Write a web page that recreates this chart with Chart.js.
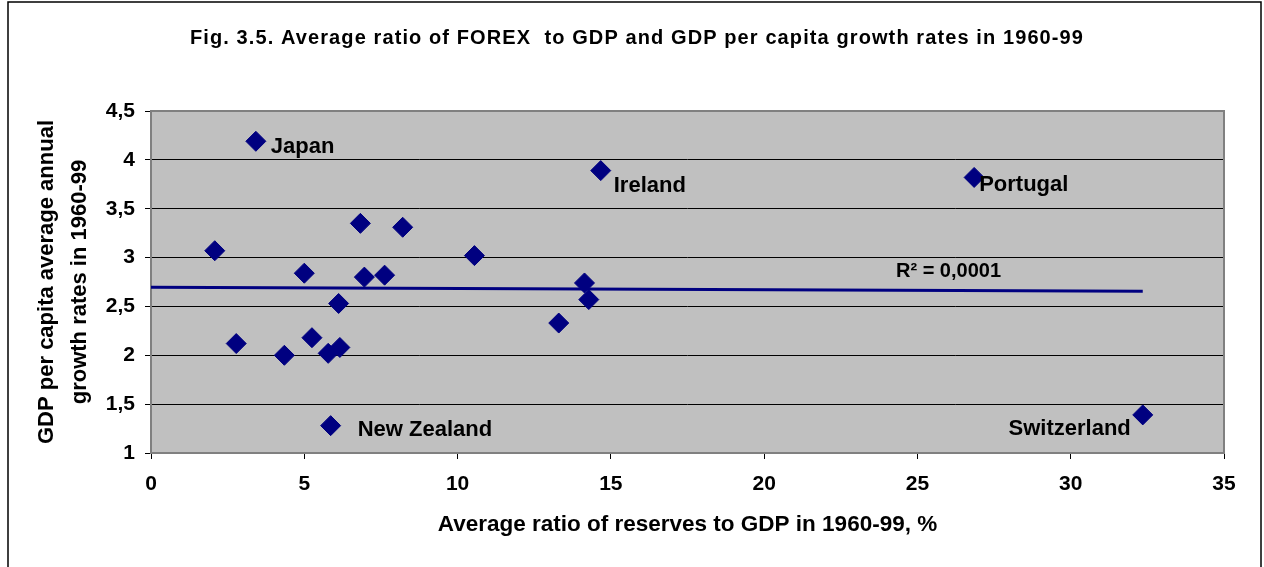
<!DOCTYPE html>
<html>
<head>
<meta charset="utf-8">
<script src="https://cdn.jsdelivr.net/npm/chart.js@4"></script>
<style>
  html, body { margin: 0; padding: 0; background: #fff; }
  #wrap { width: 1264px; height: 567px; position: relative; }
</style>
</head>
<body>
<div id="wrap"><canvas id="forexChart"></canvas></div>
<script>
const reserveRatio = [3.42, 2.08, 2.78, 4.35, 5.0, 5.25, 5.78, 6.16, 6.12, 6.83, 6.96, 7.62, 8.21, 10.55, 5.86, 14.67, 14.14, 14.28, 13.30, 26.85, 32.35];
const gdpGrowth = [4.19, 3.07, 2.12, 2.00, 2.84, 2.18, 2.02, 2.08, 2.53, 3.35, 2.80, 2.82, 3.31, 3.02, 1.28, 3.89, 2.74, 2.57, 2.33, 3.82, 1.39];
const countryNames = ['Japan', '', '', '', '', '', '', '', '', '', '', '', '', '', 'New Zealand', 'Ireland', '', '', '', 'Portugal', 'Switzerland'];
const trendX = [0, 32.35];
const trendY = [2.695, 2.655];
const xTicks = [0, 5, 10, 15, 20, 25, 30, 35];
const yTicks = [1, 1.5, 2, 2.5, 3, 3.5, 4, 4.5];
const chartTitle = 'Fig. 3.5. Average ratio of FOREX  to GDP and GDP per capita growth rates in 1960-99';
const rSquaredText = 'R² = 0,0001';

const FONT = "'Liberation Sans', Arial, sans-serif";
const NAVY = '#000080';

// where each country name sits relative to its marker: dx, baseline dy, align
const labelOffsets = {
  'Japan': [15, 12, 'left'],
  'New Zealand': [27, 10, 'left'],
  'Ireland': [13, 21, 'left'],
  'Portugal': [5, 14, 'left'],
  'Switzerland': [-12, 20, 'right'],
};

const plotFrame = {
  id: 'plotFrame',
  beforeDraw(chart) {
    const { ctx, chartArea: a } = chart;
    ctx.save();
    ctx.strokeStyle = '#000';
    ctx.lineWidth = 1.5;
    ctx.strokeRect(8, 2, 1253, 600);
    ctx.fillStyle = '#c0c0c0';
    ctx.fillRect(a.left, a.top, a.right - a.left, a.bottom - a.top);
    ctx.fillStyle = '#000';
    ctx.font = 'bold 20px ' + FONT;
    if ('letterSpacing' in ctx) ctx.letterSpacing = '1.1px';
    ctx.textAlign = 'center';
    ctx.textBaseline = 'middle';
    ctx.fillText(chartTitle, 637, 38);
    ctx.restore();
  },
  beforeDatasetsDraw(chart) {
    const { ctx, chartArea: a } = chart;
    ctx.save();
    ctx.strokeStyle = '#808080';
    ctx.lineWidth = 2;
    ctx.strokeRect(a.left, a.top, a.right - a.left, a.bottom - a.top);
    ctx.restore();
  },
  afterDatasetsDraw(chart) {
    const { ctx } = chart;
    const xs = chart.scales.x;
    const ys = chart.scales.y;
    ctx.save();
    ctx.fillStyle = '#000';
    ctx.font = 'bold 22px ' + FONT;
    ctx.textBaseline = 'alphabetic';
    countryNames.forEach((name, i) => {
      if (!name) return;
      const [dx, dy, align] = labelOffsets[name];
      ctx.textAlign = align;
      ctx.fillText(name, xs.getPixelForValue(reserveRatio[i]) + dx, ys.getPixelForValue(gdpGrowth[i]) + dy);
    });
    ctx.font = 'bold 20px ' + FONT;
    ctx.textAlign = 'left';
    ctx.fillText(rSquaredText, xs.getPixelForValue(24.3), ys.getPixelForValue(trendY[1]) - 14);
    ctx.restore();
  },
};

new Chart(document.getElementById('forexChart'), {
  type: 'scatter',
  data: {
    datasets: [{
      label: 'Countries',
      data: reserveRatio.map((x, i) => ({ x, y: gdpGrowth[i] })),
      pointStyle: 'rectRot',
      pointRadius: 10,
      pointHoverRadius: 10,
      backgroundColor: NAVY,
      borderColor: NAVY,
      borderWidth: 1,
    }, {
      label: 'Linear trend',
      type: 'line',
      data: trendX.map((x, i) => ({ x, y: trendY[i] })),
      borderColor: NAVY,
      borderWidth: 3,
      pointRadius: 0,
      fill: false,
    }],
  },
  options: {
    responsive: true,
    maintainAspectRatio: false,
    animation: false,
    layout: { padding: { left: 0, right: 40, top: 111, bottom: 0 } },
    plugins: {
      legend: { display: false },
      tooltip: { enabled: false },
    },
    scales: {
      x: {
        type: 'linear',
        min: 0,
        max: 35,
        afterBuildTicks: (s) => { s.ticks = xTicks.map((v) => ({ value: v })); },
        afterFit: (s) => { s.height = 114; },
        border: { display: false },
        grid: { drawOnChartArea: false, drawTicks: true, tickLength: 6, tickColor: '#000' },
        ticks: { color: '#000', padding: 13, font: { family: FONT, size: 21, weight: 'bold', lineHeight: 1.2 }, maxRotation: 0 },
        title: {
          display: true,
          text: 'Average ratio of reserves to GDP in 1960-99, %',
          color: '#000',
          font: { family: FONT, size: 22.5, weight: 'bold', lineHeight: 1.2 },
          padding: { top: 0, bottom: 29 },
        },
      },
      y: {
        type: 'linear',
        min: 1,
        max: 4.5,
        afterBuildTicks: (s) => { s.ticks = yTicks.map((v) => ({ value: v })); },
        afterFit: (s) => { s.width = 151; },
        border: { display: false },
        grid: { color: '#000', lineWidth: 1, drawTicks: true, tickLength: 6, tickColor: '#000' },
        ticks: {
          color: '#000',
          padding: 10,
          font: { family: FONT, size: 21, weight: 'bold' },
          callback: (v) => String(v).replace('.', ','),
        },
        title: {
          display: true,
          text: ['GDP per capita average annual', 'growth rates in 1960-99'],
          color: '#000',
          font: { family: FONT, size: 22, weight: 'bold', lineHeight: 1.52 },
          padding: { top: 30, bottom: 0 },
        },
      },
    },
  },
  plugins: [plotFrame],
});
</script>
</body>
</html>
